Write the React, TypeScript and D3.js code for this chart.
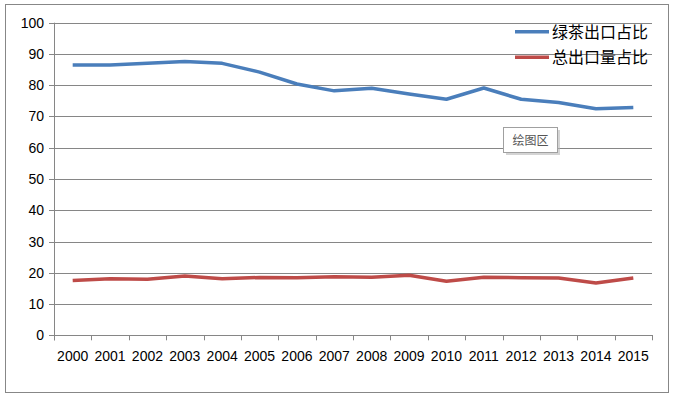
import React, { useEffect, useRef } from "react";
import * as d3 from "d3";

const years = [
  "2000", "2001", "2002", "2003", "2004", "2005", "2006", "2007",
  "2008", "2009", "2010", "2011", "2012", "2013", "2014", "2015",
];
const greenTea = [86.5, 86.5, 87.0, 87.6, 87.0, 84.2, 80.4, 78.2, 79.0, 77.2, 75.5, 79.1, 75.5, 74.5, 72.5, 72.9];
const totalExport = [17.5, 18.1, 17.9, 19.0, 18.1, 18.5, 18.4, 18.7, 18.6, 19.2, 17.3, 18.6, 18.4, 18.3, 16.7, 18.3];
const yTicks = [0, 10, 20, 30, 40, 50, 60, 70, 80, 90, 100];

const series = [
  { name: "绿茶出口占比", values: greenTea, color: "#4a7ebb" },
  { name: "总出口量占比", values: totalExport, color: "#be4b48" },
];

const App = () => {
  const svgRef = useRef<SVGSVGElement>(null);

  useEffect(() => {
    const width = 675;
    const height = 398;
    const left = 54;
    const right = 652;
    const top = 22.7;
    const bottom = 335.3;

    const svg = d3.select(svgRef.current);
    svg.selectAll("*").remove();

    // frame
    svg
      .append("rect")
      .attr("x", 5.5)
      .attr("y", 4.5)
      .attr("width", 663)
      .attr("height", 388)
      .attr("fill", "#ffffff")
      .attr("stroke", "#878787");

    const x = d3.scaleBand().domain(years).range([left, right]);
    const y = d3.scaleLinear().domain([0, 100]).range([bottom, top]);

    // gridlines
    svg
      .append("g")
      .selectAll("line")
      .data(yTicks)
      .enter()
      .append("line")
      .attr("x1", left - 5)
      .attr("x2", right)
      .attr("y1", (d) => Math.round(y(d)) + 0.5)
      .attr("y2", (d) => Math.round(y(d)) + 0.5)
      .attr("stroke", "#868686");

    // y labels
    svg
      .append("g")
      .selectAll("text")
      .data(yTicks)
      .enter()
      .append("text")
      .attr("x", 44)
      .attr("y", (d) => y(d) + 5)
      .attr("text-anchor", "end")
      .attr("fill", "#000")
      .style("font-family", "'Liberation Sans', Arial, sans-serif")
      .style("font-size", "14px")
      .text((d) => d);

    // y axis line
    svg
      .append("line")
      .attr("x1", left + 0.5)
      .attr("x2", left + 0.5)
      .attr("y1", top)
      .attr("y2", bottom + 5)
      .attr("stroke", "#868686");

    // x ticks at band edges
    const edges = years.map((d) => x(d) as number).concat([right]);
    svg
      .append("g")
      .selectAll("line")
      .data(edges)
      .enter()
      .append("line")
      .attr("x1", (d) => Math.round(d) + 0.5)
      .attr("x2", (d) => Math.round(d) + 0.5)
      .attr("y1", Math.round(bottom))
      .attr("y2", bottom + 5)
      .attr("stroke", "#868686");

    // x labels
    svg
      .append("g")
      .selectAll("text")
      .data(years)
      .enter()
      .append("text")
      .attr("x", (d) => (x(d) as number) + x.bandwidth() / 2)
      .attr("y", 360.5)
      .attr("text-anchor", "middle")
      .attr("fill", "#000")
      .style("font-family", "'Liberation Sans', Arial, sans-serif")
      .style("font-size", "14px")
      .text((d) => d);

    // lines
    const line = d3
      .line<number>()
      .x((_, i) => (x(years[i]) as number) + x.bandwidth() / 2)
      .y((d) => y(d));

    series.forEach((s) => {
      svg
        .append("path")
        .attr("d", line(s.values))
        .attr("fill", "none")
        .attr("stroke", s.color)
        .attr("stroke-width", 3.5)
        .attr("stroke-linejoin", "round");
    });

    // legend
    const legend = svg
      .append("g")
      .selectAll("g")
      .data(series)
      .enter()
      .append("g")
      .attr("transform", (_, i) => `translate(515, ${31.7 + i * 25.6})`);
    legend
      .append("line")
      .attr("x1", 0)
      .attr("x2", 34)
      .attr("stroke", (d) => d.color)
      .attr("stroke-width", 3.5);
    legend
      .append("text")
      .attr("x", 37)
      .attr("y", 6)
      .attr("fill", "#000")
      .style("font-family", "'Noto Sans CJK SC', sans-serif")
      .style("font-size", "16px")
      .text((d) => d.name);

    // "绘图区" hint box
    const tip = svg.append("g").attr("transform", "translate(503, 127)");
    tip
      .append("rect")
      .attr("x", 3)
      .attr("y", 3)
      .attr("width", 54)
      .attr("height", 25)
      .attr("fill", "#b8b8b8")
      .attr("opacity", 0.6);
    tip
      .append("rect")
      .attr("x", 0.5)
      .attr("y", 0.5)
      .attr("width", 54)
      .attr("height", 25)
      .attr("fill", "#ffffff")
      .attr("stroke", "#a0a0a0");
    tip
      .append("text")
      .attr("x", 27.5)
      .attr("y", 17.5)
      .attr("text-anchor", "middle")
      .attr("fill", "#555")
      .style("font-family", "'Noto Sans CJK SC', sans-serif")
      .style("font-size", "12px")
      .text("绘图区");
  }, []);

  return (
    <svg
      ref={svgRef}
      width={675}
      height={398}
      style={{ position: "absolute", left: 0, top: 0, background: "#fff" }}
    ></svg>
  );
};

export default App;
